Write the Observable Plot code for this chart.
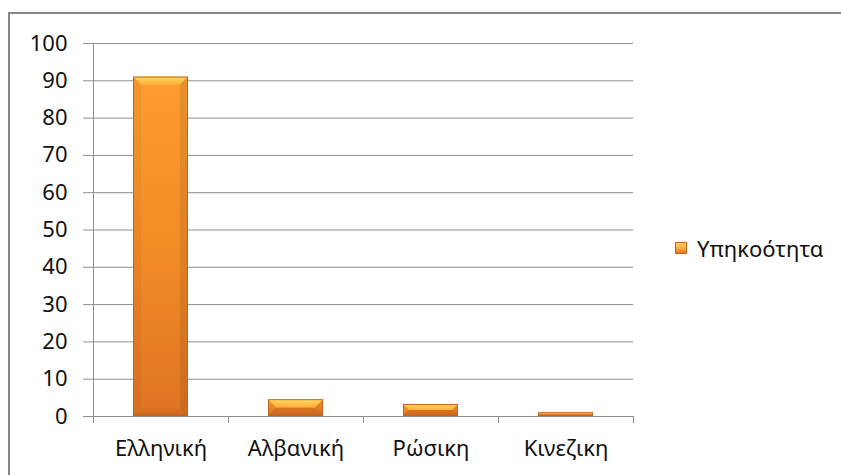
<!DOCTYPE html>
<html>
<head>
<meta charset="utf-8">
<script src="https://cdn.jsdelivr.net/npm/d3@7"></script>
<script src="https://cdn.jsdelivr.net/npm/@observablehq/plot@0.6"></script>
<style>
  body { margin: 0; background: #fff; }
  #chart { position: relative; width: 841px; height: 475px; overflow: hidden; font-family: "Noto Sans", sans-serif; }
  #frame { position: absolute; left: 8px; top: 12px; right: -10px; bottom: -10px;
           border-top: 2px solid #878787; border-left: 2px solid #878787; pointer-events: none; }
  #plot { position: absolute; left: 0; top: 0; }
  #legend { position: absolute; left: 675px; top: 233px; height: 30px; display: flex; align-items: center;
            font-size: 22px; color: #111; white-space: nowrap; }
  #legend .swatch { width: 10px; height: 10px; margin-right: 10px; border: 1px solid #c2641c;
                    background: linear-gradient(#ffd868 0%, #ffb040 45%, #e57a24 100%); }
</style>
</head>
<body>
<div id="chart">
  <div id="plot"></div>
  <div id="frame"></div>
  <div id="legend"><span class="swatch"></span><span id="legend-label"></span></div>
</div>
<script>
// Nationality of respondents (%)
const languages = ["Ελληνική", "Αλβανική", "Ρώσικη", "Κινεζικη"];
const shares = [91, 4.5, 3.2, 1];
const yTicks = [0, 10, 20, 30, 40, 50, 60, 70, 80, 90, 100];
const seriesName = "Υπηκοότητα";

const rows = languages.map((language, i) => ({language, share: shares[i]}));

const gridColor = "#8f8f8f";
const barInset = 40;

const plot = Plot.plot({
  width: 841,
  height: 475,
  marginLeft: 92,
  marginRight: 208,
  marginTop: 43,
  marginBottom: 59,
  style: {fontFamily: "Noto Sans, sans-serif", fontSize: "22px", color: "#111", background: "transparent", overflow: "visible"},
  x: {type: "band", domain: languages, padding: 0, label: null},
  y: {domain: [0, 100], label: null},
  marks: [
    Plot.gridY(yTicks, {stroke: gridColor, strokeOpacity: 1}),
    Plot.axisY(yTicks, {tickSize: 9, tickPadding: 16, stroke: gridColor, strokeOpacity: 1, tickFormat: d => String(d)}),
    Plot.axisX({tickSize: 0, tickPadding: 24}),
    Plot.barY(rows, {x: "language", y: "share", fill: "url(#barFill)", insetLeft: barInset, insetRight: barInset})
  ]
});

// Scale functions taken from the rendered plot
const xs = plot.scale("x");
const ys = plot.scale("y");
const bw = xs.bandwidth;
const px = v => xs.apply(v);
const py = v => ys.apply(v);

const svg = d3.select(plot);
const defs = svg.insert("defs", ":first-child");
const grad = (id, stops) => {
  const lg = defs.append("linearGradient").attr("id", id).attr("x1", 0).attr("y1", 0).attr("x2", 0).attr("y2", 1);
  stops.forEach(([o, c]) => lg.append("stop").attr("offset", o).attr("stop-color", c));
};
grad("barFill", [[0, "#fd9c30"], [0.5, "#f28c26"], [1, "#de7424"]]);
grad("bevelTop", [[0, "#ffec90"], [0.3, "#ffcc50"], [1, "#ffae3c"]]);
grad("bevelBottom", [[0, "#da7322"], [1, "#c9661e"]]);

// Bevelled edges on each bar
const bev = svg.append("g");
rows.forEach(d => {
  const x0 = px(d.language) + barInset;
  const x1 = px(d.language) + bw - barInset;
  const yt = py(d.share);
  const yb = py(0);
  const b = Math.min(8, (yb - yt) / 2);
  bev.append("polygon")
    .attr("points", [[x0, yt], [x1, yt], [x1 - b, yt + b], [x0 + b, yt + b]].join(" "))
    .attr("fill", "url(#bevelTop)");
  bev.append("polygon")
    .attr("points", [[x0, yb], [x1, yb], [x1 - b, yb - b], [x0 + b, yb - b]].join(" "))
    .attr("fill", "url(#bevelBottom)");
  bev.append("polygon")
    .attr("points", [[x0, yt], [x0 + b, yt + b], [x0 + b, yb - b], [x0, yb]].join(" "))
    .attr("fill", "#000").attr("fill-opacity", 0.04);
  bev.append("polygon")
    .attr("points", [[x1, yt], [x1 - b, yt + b], [x1 - b, yb - b], [x1, yb]].join(" "))
    .attr("fill", "#000").attr("fill-opacity", 0.08);
  bev.append("rect")
    .attr("x", x0 + 0.5).attr("y", yt + 0.5)
    .attr("width", x1 - x0 - 1).attr("height", Math.max(0, yb - yt - 1))
    .attr("fill", "none").attr("stroke", "#c2641c").attr("stroke-width", 1);
});

// Value axis line and category boundary ticks
const axisG = svg.append("g").attr("stroke", gridColor).attr("shape-rendering", "crispEdges");
const bounds = languages.map(c => px(c)).concat([px(languages[languages.length - 1]) + bw]);
const y0 = py(0);
axisG.append("line").attr("x1", bounds[0]).attr("x2", bounds[0]).attr("y1", py(100)).attr("y2", y0 + 7);
bounds.forEach(bx => {
  axisG.append("line").attr("x1", bx).attr("x2", bx).attr("y1", y0).attr("y2", y0 + 7);
});

document.getElementById("plot").appendChild(plot);
document.getElementById("legend-label").textContent = seriesName;
</script>
</body>
</html>
